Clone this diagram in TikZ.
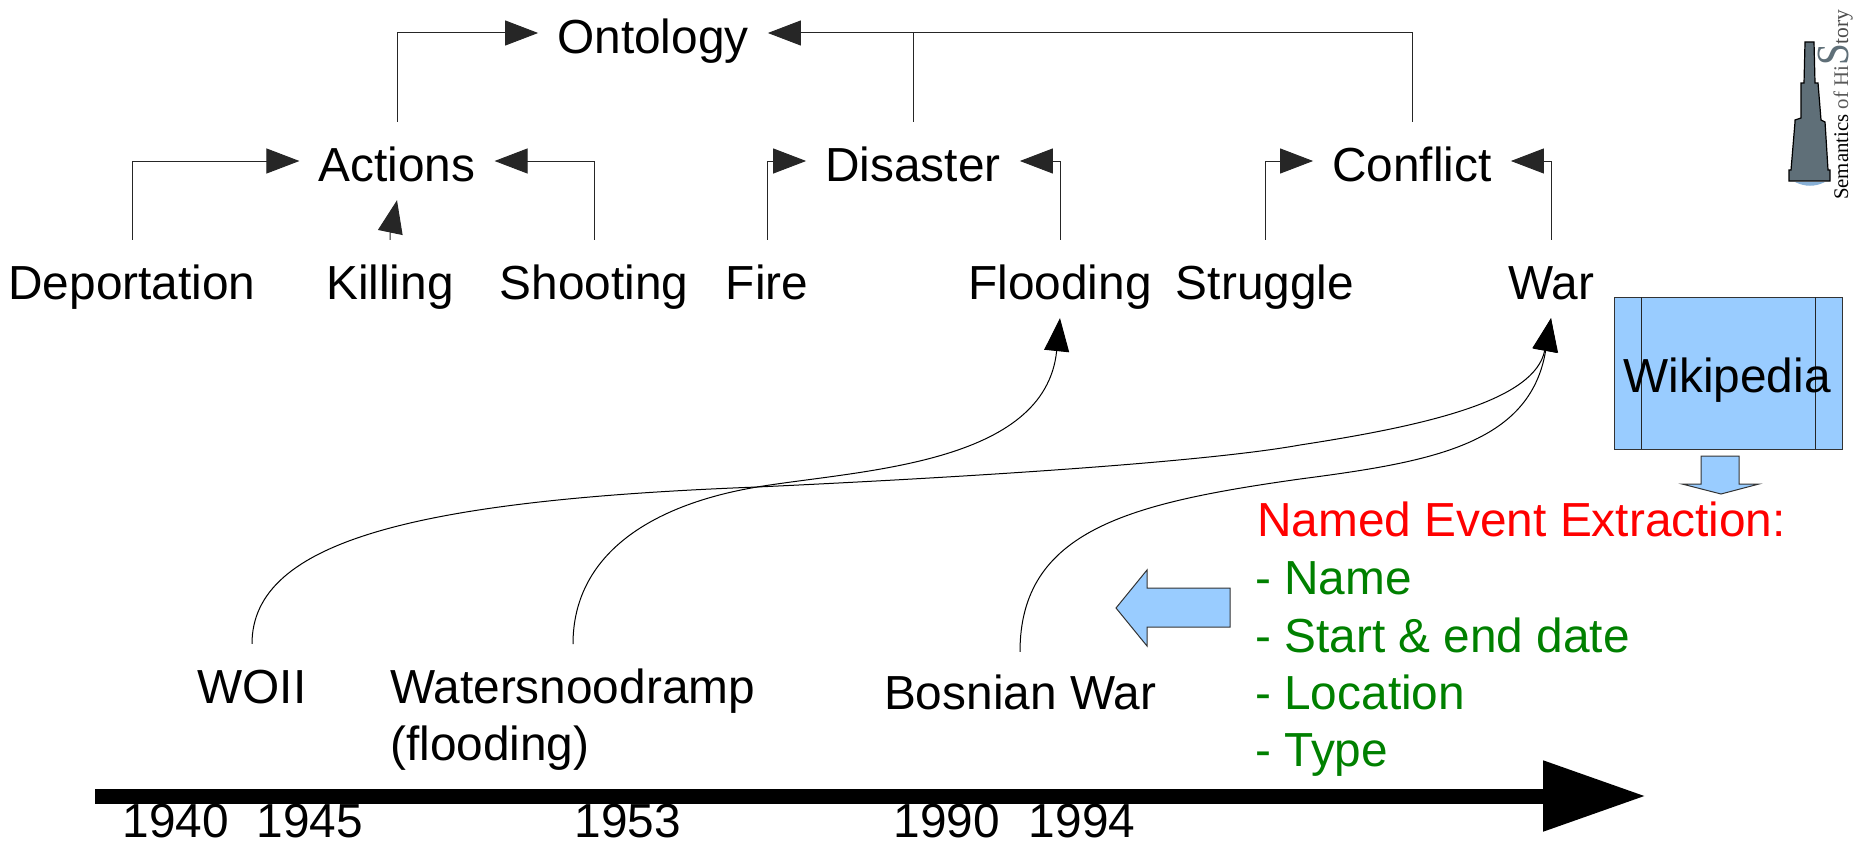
\documentclass[tikz,border=0pt]{standalone}
\usepackage{fontspec}
\setmainfont{Liberation Sans}
\newfontfamily\logofont{Liberation Serif}
\usetikzlibrary{arrows.meta}
\definecolor{boxblue}{HTML}{99CCFF}
\definecolor{evgreen}{HTML}{008000}
\definecolor{scope}{HTML}{5F6F78}
\tikzset{
  x=1pt,y=-1pt,
  lbl/.style={anchor=base,font=\fontsize{47.8}{50}\selectfont,inner sep=0pt,text=black},
  term/.style={lbl,text height=40pt,text depth=0pt,inner xsep=19pt,inner ysep=19pt},
  conn/.style={line width=1pt,draw=black!85,-{Triangle[length=33pt,width=25pt]}},
  curv/.style={line width=1pt,draw=black,-{Triangle[length=33pt,width=25pt]}},
  plain/.style={line width=1pt,draw=black!85},
  bluesh/.style={fill=boxblue,draw=black!80,line width=1pt},
  left text/.style={anchor=base west,font=\fontsize{47.8}{50}\selectfont,inner sep=0pt},
  ev/.style={left text,text=evgreen},
}
\begin{document}
\begin{tikzpicture}
\useasboundingbox (0,0) rectangle (1854,851);
% hierarchy
\node[term] (ontology) at (653,53) {Ontology};
\node[term] (actions) at (397,181) {Actions};
\node[term] (disaster) at (913,181) {Disaster};
\node[term] (conflict) at (1412,181) {Conflict};
\node[term] (deport) at (132,299) {Deportation};
\node[term] (killing) at (390,299) {Killing};
\node[term] (shooting) at (594,299) {Shooting};
\node[term] (fire) at (767,299) {Fire};
\node[term] (flooding) at (1060,299) {Flooding};
\node[term] (struggle) at (1265,299) {Struggle};
\node[term] (war) at (1551,299) {War};
% connectors
\draw[conn] (actions.north) |- (ontology.west);
\draw[conn] (conflict.north) |- (ontology.east);
\draw[plain] (disaster.north) -- (disaster.north |- ontology.east);
\draw[conn] (deport.north) |- (actions.west);
\draw[conn] (shooting.north) |- (actions.east);
\draw[conn] (killing.north) -- ++(0,-6) -- (actions.south);
\draw[conn] (fire.north) |- (disaster.west);
\draw[conn] (flooding.north) |- (disaster.east);
\draw[conn] (struggle.north) |- (conflict.west);
\draw[conn] (war.north) |- (conflict.east);
% events
\node[lbl,inner ysep=19pt,text height=40pt] (woii) at (252,703) {WOII};
\node[left text,inner ysep=19pt,text height=40pt] (water) at (390,703) {Watersnoodramp};
\node[left text] (floodtxt) at (390,760) {(flooding)};
\node[lbl,inner ysep=19pt,text height=38pt] (bosnian) at (1020,709) {Bosnian War};
\coordinate (wstart) at (573,644);
\draw[curv] (woii.north) .. controls (252,540) and (420,500) .. (757,487) .. controls (950,478) and (1200,463) .. (1300,445) .. controls (1430,425) and (1535,400) .. (war.south);
\draw[curv] (wstart) .. controls (573,555) and (650,505) .. (757,487) .. controls (860,470) and (1045,465) .. (flooding.south);
\draw[curv] (bosnian.north) .. controls (1020,530) and (1130,503) .. (1300,479) .. controls (1430,462) and (1530,445) .. (war.south);
% timeline
\coordinate (tlstart) at (95,796);
\coordinate (tlend) at (1646,796);
\draw[line width=15pt,draw=black,-{Triangle[length=103pt,width=67pt]}] (tlstart) -- (tlend);
\node[lbl] (y1940) at (176,837) {1940};
\node[lbl] (y1945) at (310,837) {1945};
\node[lbl] (y1953) at (628,837) {1953};
\node[lbl] (y1990) at (947,837) {1990};
\node[lbl] (y1994) at (1082,837) {1994};
% wikipedia
\draw[bluesh] (1614,297) rectangle (1842,449);
\draw[line width=1pt,draw=black!85] (1641,297) -- (1641,449) (1815,297) -- (1815,449);
\node[lbl] (wiki) at (1727,392) {Wikipedia};
\draw[bluesh] (1701,456) -- (1739,456) -- (1739,484) -- (1759,484) -- (1721,494) -- (1682,484) -- (1701,484) -- cycle;
\draw[bluesh] (1230,588) -- (1147,588) -- (1147,570) -- (1116,608) -- (1147,646) -- (1147,627) -- (1230,627) -- cycle;
% extraction
\node[left text,text=red] (named) at (1257,536) {Named Event Extraction:};
\node[ev] (e1) at (1255,594) {- Name};
\node[ev] (e2) at (1255,652) {- Start \& end date};
\node[ev] (e3) at (1255,709) {- Location};
\node[ev] (e4) at (1255,766) {- Type};
% logo
\fill[boxblue!70!scope] (1795,182) .. controls (1805,187) and (1815,187) .. (1825,182) -- cycle;
\draw[line width=1.2pt,draw=black,fill=scope] (1805,42) -- (1814,42) -- (1815,83) -- (1818,83) -- (1821,120) -- (1825,122) -- (1828,170) -- (1830,170) -- (1830,181) -- (1789,181) -- (1789,170) -- (1791,170) -- (1795,122) -- (1795,120) -- (1801,118) -- (1801,83) -- (1804,83) -- cycle;
\node[rotate=90,anchor=base west,inner sep=0pt,font=\logofont] (logo) at (1848,200)
 {\textcolor{black}{\fontsize{20.8}{22}\selectfont Semantics }\textcolor{black!65}{\fontsize{20.8}{22}\selectfont of Hi}\textcolor{scope}{\fontsize{46}{46}\selectfont\scalebox{0.85}[1]{S}}\textcolor{black!70}{\fontsize{21.5}{22}\selectfont tory}};
\end{tikzpicture}
\end{document}
